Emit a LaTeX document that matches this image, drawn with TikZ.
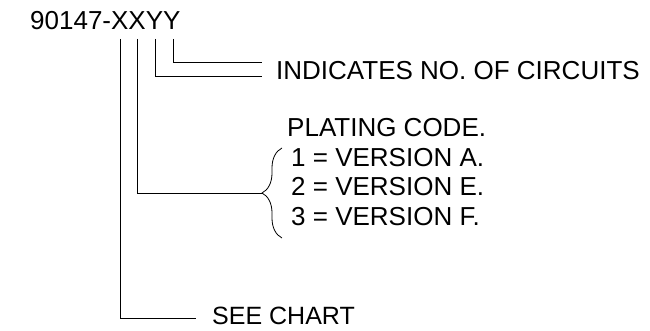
\documentclass[tikz,border=0pt]{standalone}
\usepackage{fontspec}
\setmainfont{Liberation Sans}
\usepackage{tikz}
\usetikzlibrary{decorations.pathreplacing}

\tikzset{
    lbl/.style={font=\fontsize{26}{30}\selectfont, inner sep=0pt, anchor=base west},
    wire/.style={line width=1pt, black}
}

\begin{document}
\begin{tikzpicture}[x=1pt, y=-1pt]
                \useasboundingbox (0,0) rectangle (650,331);
                 \node[lbl] (part) at (30,30) {90147-XXYY};
                 \node[lbl] (circ) at (276,80) {INDICATES NO. OF CIRCUITS};
                 \node[lbl] (plat) at (287,137) {PLATING CODE.};
                 \node[lbl] (vera) at (291,167) {1 = VERSION A.};
                 \node[lbl] (vere) at (291,196) {2 = VERSION E.};
                 \node[lbl] (verf) at (291,225) {3 = VERSION F.};
                 \node[lbl, font=\fontsize{25}{30}\selectfont] (chart) at (212,324) {SEE CHART};
                 \coordinate (xa) at (120,39);
                 \coordinate (xb) at (137,39);
                 \coordinate (ya) at (155,39);
                 \coordinate (yb) at (173,39);
                 \coordinate (circa) at (262,63);
                 \coordinate (circb) at (262,77);
                 \coordinate (tip) at (263,194);
                 \coordinate (chartend) at (196,318);
                 \draw[wire] (yb) |- (circa);
                 \draw[wire] (ya) |- (circb);
                 \draw[wire] (xb) |- (tip);
                 \draw[wire] (xa) |- (chartend);
                 \draw[line width=0.8pt, decorate, decoration={brace, mirror, amplitude=20pt}] (282,148) -- (282,238);
            \end{tikzpicture}
\end{document}
